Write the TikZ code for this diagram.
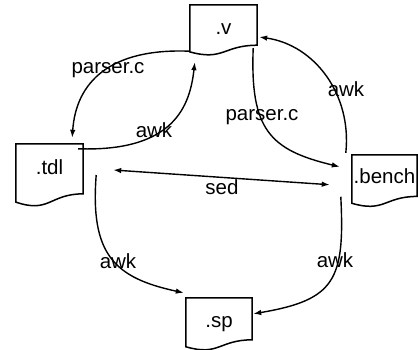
\documentclass[tikz,border=0pt]{standalone}
\usepackage{fontspec}
\setmainfont{Liberation Sans}
\usetikzlibrary{calc,arrows.meta}
\begin{document}
\begin{tikzpicture}[x=1pt,y=-1pt,
  docnode/.style={inner sep=0pt, font=\fontsize{20.5}{24}\selectfont, text height=15pt},
  lbl/.style={anchor=base, inner sep=0pt, font=\fontsize{20.5}{24}\selectfont},
  tip/.tip={Latex[length=8pt,width=5.5pt]},
  flow/.style={line width=1.4pt, -tip},
  both/.style={line width=1.4pt, tip-tip},
  outline/.style={line width=1.5pt, line join=miter}]
\useasboundingbox (0,0) rectangle (418,350);

% file nodes (document shape drawn below)
\node[docnode, minimum width=67pt, minimum height=50pt, text depth=5pt]   (v)     at (223.5,30)    {.v};
\node[docnode, minimum width=67pt, minimum height=62pt, text depth=15pt]  (tdl)   at (49.5,175)    {.tdl};
\node[docnode, minimum width=65pt, minimum height=51.5pt, text depth=8.5pt] (bench) at (384.5,180.75) {.bench};
\node[docnode, minimum width=66pt, minimum height=52pt, text depth=9pt]   (sp)    at (219,324)     {.sp};

% document outline: flat top, wavy bottom edge
\foreach \n in {v,tdl,bench,sp}
  \draw[outline] (\n.north west) -- (\n.north east)
    -- ($(\n.north east)!0.802!(\n.south east)$)
    .. controls ($(\n.north)!0.802!(\n.south)$) and ($(\n.north)!1.12!(\n.south)$)
    .. ($(\n.north west)!0.934!(\n.south west)$) -- cycle;

% edge labels
\node[lbl] (l1) at (108,74)  {parser.c};
\node[lbl] (l2) at (154,138) {awk};
\node[lbl] (l3) at (262,121) {parser.c};
\node[lbl] (l4) at (346,97)  {awk};
\node[lbl] (l5) at (222,195) {sed};
\node[lbl] (l6) at (118,268) {awk};
\node[lbl] (l7) at (335,267) {awk};

% conversions
\draw[flow] ($(v.south west)+(0,-4)$) .. controls (110,48) and (76,82) .. ($(tdl.north east)+(-11,-6)$);
\draw[flow] ($(tdl.north east)+(-5,5)$) .. controls (175,152) and (190,105) .. ($(v.south west)+(5,7)$);
\draw[flow] ($(v.south east)+(-4,-7)$) .. controls (250,130) and (270,150) .. ($(bench.north west)+(-12,12)$);
\draw[flow] ($(bench.north west)+(-6,-2)$) .. controls (352,95) and (315,45) .. ($(v.east)+(2,7)$);
\draw[both] ($(tdl.east)+(30,-5)$) -- ($(bench.west)+(-22,4)$);
\draw[flow] ($(tdl.east)+(13,0)$) .. controls (90,255) and (115,278) .. ($(sp.north west)+(-2,-5)$);
\draw[flow] ($(bench.west)+(-11,16)$) .. controls (345,280) and (335,300) .. ($(sp.north east)+(1,16)$);
\end{tikzpicture}
\end{document}
